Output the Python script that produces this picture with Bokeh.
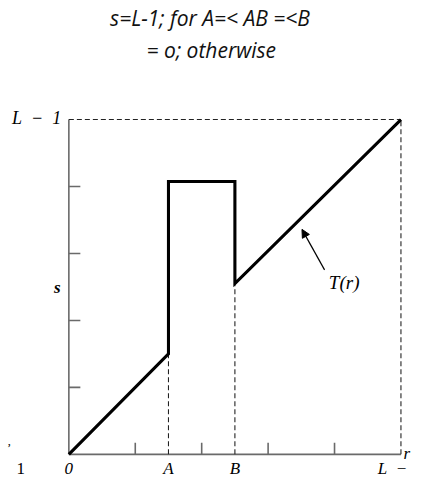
from bokeh.plotting import figure
from bokeh.models import Range1d, Arrow, NormalHead
from bokeh.core.properties import value
from bokeh.embed import file_html
from bokeh.resources import INLINE

# ---- data ----
A = 0.30
B = 0.50
r_values = [0.0, 0.30, 0.30, 0.50, 0.50, 1.0]
s_values = [0.0, 0.30, 0.815, 0.815, 0.51, 1.0]
x_ticks = [0.2, 0.4, 0.6, 0.8]
y_ticks = [0.2, 0.4, 0.6, 0.8]
x_tick_labels = ["0", "A", "B"]
x_tick_label_pos = [0.0, A, B]
title_lines = ["s=L-1; for A=< AB =<B", "= o; otherwise"]

# ---- layout (pixel calibration) ----
W, H = 412, 479
PX_X = 332.1   # pixels per unit in r
PX_Y = 334.8   # pixels per unit in s
x0 = -68.35 / PX_X
y1 = 453.85 / PX_Y

p = figure(width=W, height=H, output_backend="svg", toolbar_location=None,
           x_range=Range1d(x0, x0 + W / PX_X), y_range=Range1d(y1 - H / PX_Y, y1),
           min_border=0)
p.xaxis.visible = False
p.yaxis.visible = False
p.grid.visible = False
p.outline_line_color = None
p.background_fill_color = "white"
p.border_fill_color = "white"

tick_len_x = 11.5 / PX_Y
tick_len_y = 11.5 / PX_X
axis_col = "#6a6a6a"

# axis lines
p.segment(x0=[0, 0], y0=[0, 0], x1=[1, 0], y1=[0, 1], line_color=axis_col, line_width=1.6)
# inward ticks
p.segment(x0=x_ticks, y0=[0] * len(x_ticks), x1=x_ticks, y1=[tick_len_x] * len(x_ticks),
          line_color=axis_col, line_width=1.6)
p.segment(x0=[0] * len(y_ticks), y0=y_ticks, x1=[tick_len_y] * len(y_ticks), y1=y_ticks,
          line_color=axis_col, line_width=1.6)

# dashed guide lines
sA = s_values[1]
sB = s_values[4]
p.segment(x0=[A, B, 1, 0], y0=[0, 0, 0, 1], x1=[A, B, 1, 1], y1=[sA, sB, 1, 1],
          line_color="#222222", line_width=1.1, line_dash="5 3")

# transformation curve
p.line(r_values, s_values, line_color="black", line_width=3.1, line_join="miter")

# arrow pointing at the curve
p.add_layout(Arrow(end=NormalHead(size=8, fill_color="black", line_color="black"),
                   x_start=0.770, y_start=0.551, x_end=0.702, y_end=0.672,
                   line_color="black", line_width=1.2))

serif = value("Liberation Serif")

# title lines
p.text(x=[0.425, 0.429], y=[1.3025, 1.209], text=title_lines,
       text_font=value("Open Sans"), text_font_style="italic", text_font_size="21px",
       text_align="center", text_baseline="middle", text_color="#111111")

# y-axis labels
p.text(x=[-0.023], y=[1.004], text=["L\u2002−\u20021"], text_font=serif, text_font_style="italic",
       text_font_size="18px", text_align="right", text_baseline="middle", text_color="black")
p.text(x=[-0.035], y=[0.497], text=["s"], text_font=serif, text_font_style="bold italic",
       text_font_size="17px", text_align="center", text_baseline="middle", text_color="black")

# x-axis labels
lab_y = -0.042
p.text(x=x_tick_label_pos, y=[lab_y] * 3, text=x_tick_labels, text_font=serif,
       text_font_style="italic", text_font_size="17px", text_align="center",
       text_baseline="middle", text_color="black")
p.text(x=[0.93], y=[lab_y], text=["L\u2002−"], text_font=serif,
       text_font_style="italic", text_font_size="17px", text_align="left",
       text_baseline="middle", text_color="black")
p.text(x=[-0.145], y=[lab_y], text=["1"], text_font=serif, text_font_size="17px",
       text_align="center", text_baseline="middle", text_color="black")
p.text(x=[-0.18], y=[0.02], text=["\u2019"], text_font=serif, text_font_size="13px",
       text_align="center", text_baseline="middle", text_color="black")
p.text(x=[1.008], y=[0.004], text=["r"], text_font=serif, text_font_style="italic",
       text_font_size="17px", text_align="left", text_baseline="middle", text_color="black")

# curve label
p.text(x=[0.829], y=[0.512], text=["T(r)"], text_font=serif, text_font_style="italic",
       text_font_size="19px", text_align="center", text_baseline="middle", text_color="black")

open("out.html", "w").write(file_html(p, INLINE))
